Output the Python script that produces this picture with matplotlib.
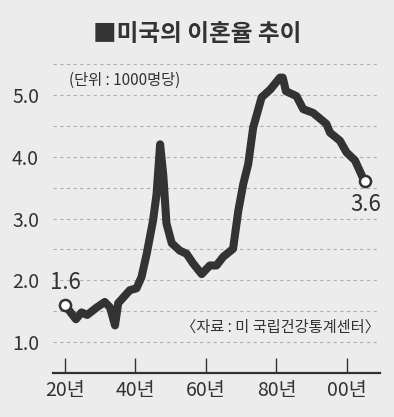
import matplotlib
matplotlib.use('Agg')
import matplotlib.pyplot as plt

plt.rcParams['font.family'] = ['Noto Sans CJK KR', 'DejaVu Sans']
num_font = ['Liberation Sans Narrow', 'Noto Sans CJK KR']

# Divorce rate per 1000 people
years = [1920, 1923.1, 1924.7, 1926.3, 1929, 1931.3, 1932.8, 1934.2, 1935.1,
         1938.4, 1940.3, 1941.7, 1943.2, 1945, 1946, 1947, 1947.9, 1948.8,
         1950.3, 1952.6, 1954.5, 1956.4, 1958.8, 1961.1, 1963, 1964.9,
         1967.7, 1969.2, 1970.6, 1972, 1973.4, 1975.8, 1978.3, 1981, 1981.8,
         1982.7, 1985.7, 1987.6, 1990.4, 1994.2, 1995.2, 1998, 1999.9,
         2002.3, 2005]
rates = [1.6, 1.37, 1.48, 1.44, 1.56, 1.65, 1.56, 1.27, 1.63,
         1.84, 1.87, 2.05, 2.43, 2.97, 3.4, 4.2, 3.7, 2.92,
         2.6, 2.48, 2.43, 2.27, 2.1, 2.24, 2.24, 2.38,
         2.51, 3.13, 3.56, 3.88, 4.47, 4.96, 5.09, 5.28, 5.28,
         5.06, 4.98, 4.77, 4.71, 4.53, 4.39, 4.26, 4.07,
         3.94, 3.6]

xticks = [1920, 1940, 1960, 1980, 2000]
xtick_labels = ['20년', '40년', '60년', '80년', '00년']
yticks = [1.0, 2.0, 3.0, 4.0, 5.0]
ytick_labels = ['1.0', '2.0', '3.0', '4.0', '5.0']
grid_levels = [1.0, 1.5, 2.0, 2.5, 3.0, 3.5, 4.0, 4.5, 5.0, 5.5]

bg = '#ececec'
dark = '#333333'

fig = plt.figure(figsize=(3.94, 4.17), dpi=100, facecolor=bg)
ax = fig.add_axes([0.1345, 0.1055, 0.83, 0.741], facecolor=bg)

for g in grid_levels:
    ax.axhline(g, color='#b0b0b0', linestyle=(0, (3, 3)), linewidth=0.8, zorder=1)

ax.plot(years, rates, color=dark, linewidth=5.8, solid_joinstyle='round',
        solid_capstyle='round', zorder=3)
ax.plot([years[0], years[-1]], [rates[0], rates[-1]], 'o', markersize=8,
        markerfacecolor='white', markeredgecolor=dark, markeredgewidth=1.8, zorder=4)

ax.annotate(f'{rates[0]:.1f}', (years[0], rates[0]), xytext=(0, 8),
            textcoords='offset points', ha='center', va='bottom',
            fontsize=16, color=dark, family=num_font)
ax.annotate(f'{rates[-1]:.1f}', (years[-1], rates[-1]), xytext=(1, -8),
            textcoords='offset points', ha='center', va='top',
            fontsize=16, color=dark, family=num_font)

ax.set_xlim(1916.6, 2009.4)
ax.set_ylim(0.5, 5.5)

ax.set_xticks(xticks)
ax.set_xticklabels(xtick_labels, fontsize=14, color=dark, family=num_font)
ax.set_yticks(yticks)
ax.set_yticklabels(ytick_labels, fontsize=14, color=dark, family=num_font)
ax.tick_params(axis='x', direction='in', length=11, width=1.0, color=dark, pad=5)
ax.tick_params(axis='y', length=0, pad=10)

for side in ['top', 'right', 'left']:
    ax.spines[side].set_visible(False)
ax.spines['bottom'].set_color(dark)
ax.spines['bottom'].set_linewidth(1.6)

fig.text(0.5, 0.918, '■미국의 이혼율 추이', ha='center', va='center',
         fontsize=17, fontweight='bold', color=dark)
fig.text(0.175, 0.808, '(단위 : 1000명당)', ha='left', va='center',
         fontsize=11, color=dark, family=num_font)
fig.text(0.965, 0.215, '〈자료 : 미 국립건강통계센터〉', ha='right', va='center',
         fontsize=11, color=dark)

fig.savefig('out.png', dpi=100, facecolor=bg)
